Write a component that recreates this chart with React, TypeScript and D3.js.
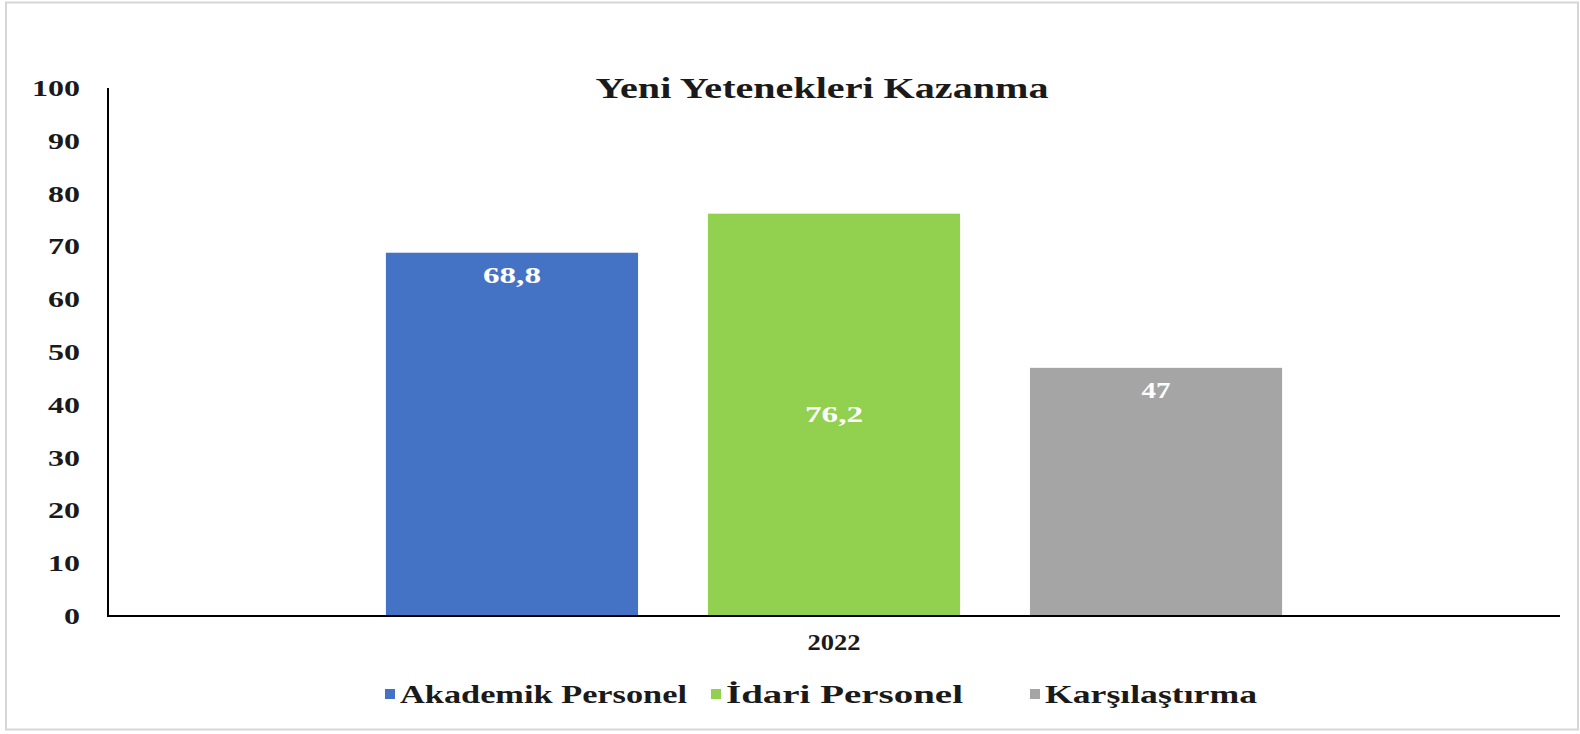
import React from "react";
import * as d3 from "d3";

const categories = ["2022"];
const seriesNames = ["Akademik Personel", "İdari Personel", "Karşılaştırma"];
const seriesValues = [68.8, 76.2, 47];
const valueLabels = ["68,8", "76,2", "47"];
const seriesColors = ["#4472C4", "#92D050", "#A5A5A5"];
const yTicks = [0, 10, 20, 30, 40, 50, 60, 70, 80, 90, 100];
const title = "Yeni Yetenekleri Kazanma";

// label placement inside the bars (as in the reference)
const labelPlacement = ["top", "middle", "top"];

const W = 1580;
const H = 734;
const FONT = "'Liberation Serif', 'Times New Roman', Times, serif";

export default function App() {
  const left = 108;
  const right = 1560;
  const top = 88;
  const bottom = 616;

  const y = d3.scaleLinear().domain([0, 100]).range([bottom, top]);
  const x0 = d3.scaleBand<string>().domain(categories).range([left, right]).padding(0);
  const x1 = d3
    .scaleBand<string>()
    .domain(seriesNames)
    .range([0, x0.bandwidth()])
    .paddingInner(0.217)
    .paddingOuter(0.863);

  const legendX = [390, 716, 1035];
  const legendW = [287, 237, 212];

  return (
    <div style={{ position: "fixed", left: 0, top: 0, width: W, height: H, background: "#fff" }}>
      <svg width={W} height={H} style={{ display: "block" }}>
        <rect x={0} y={0} width={W} height={H} fill="#fff" />
        <rect x={6} y={2.5} width={1572} height={727} fill="none" stroke="#d6d6d6" strokeWidth={2} />

        <text
          x={(left + right) / 2 - 12}
          y={98}
          textAnchor="middle"
          fontFamily={FONT}
          fontWeight="bold"
          fontSize={29}
          fill="#1a1a1a"
          textLength={453}
          lengthAdjust="spacingAndGlyphs"
        >
          {title}
        </text>

        {yTicks.map((t) => (
          <text
            key={t}
            x={80}
            y={y(t) + 8}
            textAnchor="end"
            fontFamily={FONT}
            fontWeight="bold"
            fontSize={24}
            fill="#1a1a1a"
            textLength={String(t).length * 16}
            lengthAdjust="spacingAndGlyphs"
          >
            {t}
          </text>
        ))}

        {categories.map((c) => (
          <g key={c} transform={`translate(${x0(c)},0)`}>
            {seriesNames.map((s, i) => {
              const bx = x1(s)!;
              const bw = x1.bandwidth();
              const by = y(seriesValues[i]);
              const bh = bottom - by;
              const ly = labelPlacement[i] === "top" ? by + 30 : by + bh / 2 + 7;
              return (
                <g key={s}>
                  <rect x={bx} y={by} width={bw} height={bh} fill={seriesColors[i]} />
                  <text
                    x={bx + bw / 2}
                    y={ly}
                    textAnchor="middle"
                    fontFamily={FONT}
                    fontWeight="bold"
                    fontSize={24}
                    fill="#ffffff"
                    textLength={valueLabels[i].length * 14.5}
                    lengthAdjust="spacingAndGlyphs"
                  >
                    {valueLabels[i]}
                  </text>
                </g>
              );
            })}
            <text
              x={x0.bandwidth() / 2}
              y={650}
              textAnchor="middle"
              fontFamily={FONT}
              fontWeight="bold"
              fontSize={24}
              fill="#1a1a1a"
              textLength={53}
              lengthAdjust="spacingAndGlyphs"
            >
              {c}
            </text>
          </g>
        ))}

        <line x1={left} x2={left} y1={top} y2={bottom + 1} stroke="#000" strokeWidth={2} />
        <line x1={left - 1} x2={right} y1={bottom} y2={bottom} stroke="#000" strokeWidth={2} />

        {seriesNames.map((s, i) => (
          <g key={s}>
            <rect x={legendX[i] - 5} y={689} width={10} height={10} fill={seriesColors[i]} />
            <text
              x={legendX[i] + 10}
              y={703}
              fontFamily={FONT}
              fontWeight="bold"
              fontSize={25}
              fill="#1a1a1a"
              textLength={legendW[i]}
              lengthAdjust="spacingAndGlyphs"
            >
              {s}
            </text>
          </g>
        ))}
      </svg>
    </div>
  );
}
